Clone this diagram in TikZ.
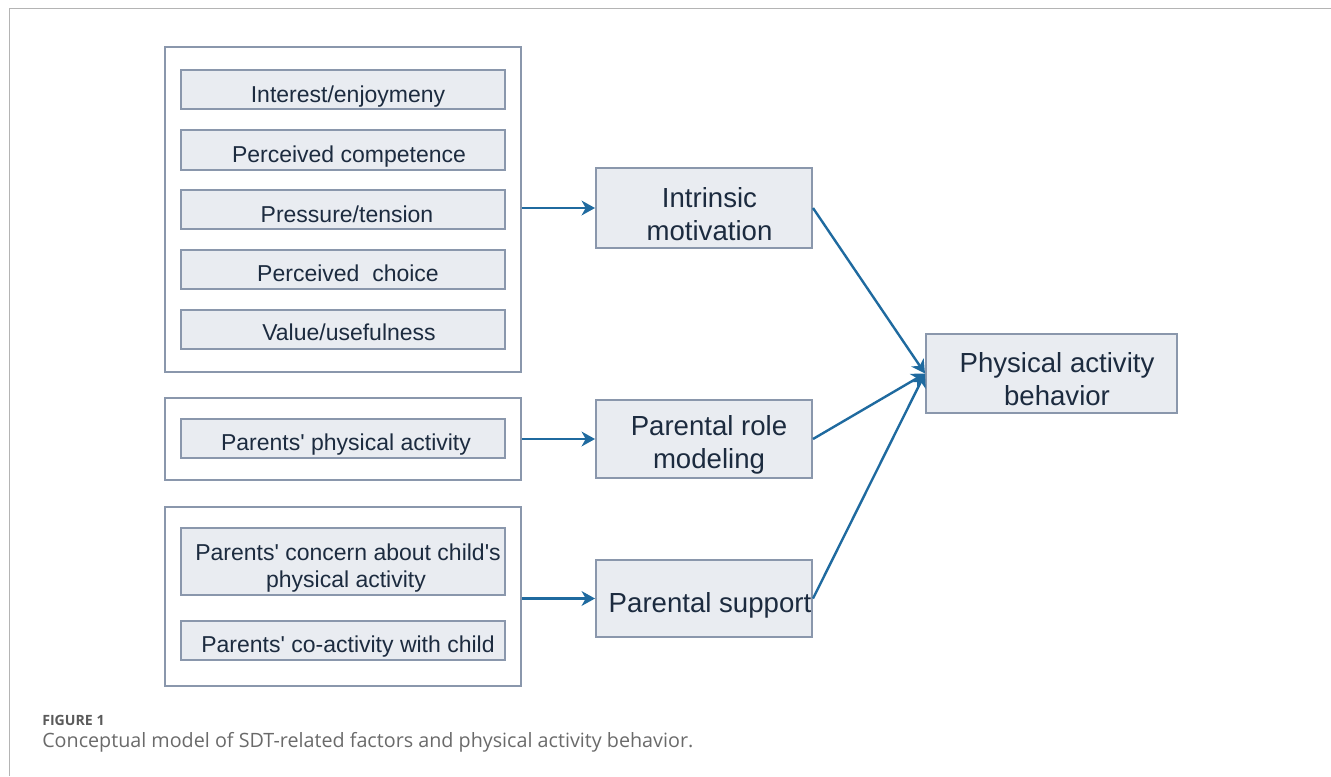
\documentclass[tikz,border=0pt]{standalone}
\usepackage{fontspec}
\newfontfamily\diafont{Liberation Sans}
\newfontfamily\capfont{Open Sans}
\usetikzlibrary{arrows.meta,fit}
\definecolor{boxfill}{HTML}{E9ECF1}
\definecolor{boxline}{HTML}{8A97AC}
\definecolor{arrowblue}{HTML}{1F6A9F}
\definecolor{txtcol}{HTML}{1C2B3F}
\definecolor{framegray}{HTML}{B4B4B4}
\definecolor{capgray}{HTML}{5A5A5A}
\definecolor{capgrayb}{HTML}{6A6A6A}
\tikzset{
  groupbox/.style={draw=boxline, line width=1.4pt, fill=white, inner sep=0pt},
  sbox/.style={draw=boxline, line width=1.5pt, fill=boxfill, inner sep=0pt},
  stxt/.style={inner sep=0pt, anchor=base, text=txtcol, font=\diafont\fontsize{17.25pt}{20pt}\selectfont},
  btxt/.style={inner sep=0pt, anchor=base, text=txtcol, font=\diafont\fontsize{20.7pt}{24pt}\selectfont},
  conn/.style={draw=arrowblue, line width=1.8pt, -{Stealth[length=10pt,width=11pt,inset=3pt]}},
}
\begin{document}
\begin{tikzpicture}[x=0.75pt,y=-0.75pt]
\useasboundingbox (0,0) rectangle (1331,776);
% outer frame
\draw[framegray, line width=1.4pt] (9.5,776) -- (9.5,8.5) -- (1331,8.5);

% group boxes
\node[groupbox, fit={(165,47) (521,372)}] (g1) {};
\node[groupbox, fit={(165,398) (521,480)}] (g2) {};
\node[groupbox, fit={(165,507) (521,686)}] (g3) {};

% small boxes group 1
\node[sbox, fit={(181,70) (505,109)}] (s1) {};
\node[sbox, fit={(181,130) (505,170)}] (s2) {};
\node[sbox, fit={(181,190) (505,229)}] (s3) {};
\node[sbox, fit={(181,250) (505,289)}] (s4) {};
\node[sbox, fit={(181,310) (505,349)}] (s5) {};
\node[stxt] (t1) at (348,102.7) {Interest/enjoymeny};
\node[stxt] (t2) at (349,162.5) {Perceived competence};
\node[stxt] (t3) at (347,222.3) {Pressure/tension};
\node[stxt] (t4) at (348,281.7) {Perceived\ \ choice};
\node[stxt] (t5) at (349,340.7) {Value/usefulness};

% group 2
\node[sbox, fit={(181,419) (505,458)}] (s6) {};
\node[stxt] (t6) at (346,450.7) {Parents' physical activity};

% group 3
\node[sbox, fit={(181,528) (505,595)}] (s7) {};
\node[stxt] (t7a) at (348,560) {Parents' concern about child's};
\node[stxt] (t7b) at (346,587) {physical activity};
\node[sbox, fit={(181,621) (505,660)}] (s8) {};
\node[stxt] (t8) at (348,652.7) {Parents' co-activity with child};

% middle boxes
\node[sbox, fit={(596,168) (812,248)}] (im) {};
\node[btxt] (imt1) at (709.5,207) {Intrinsic};
\node[btxt] (imt2) at (709.5,240) {motivation};
\node[sbox, fit={(596,400) (812,478)}] (rm) {};
\node[btxt] (rmt1) at (709,435) {Parental role};
\node[btxt] (rmt2) at (709,468) {modeling};
\node[sbox, fit={(596,560) (812,637)}] (ps) {};
\node[btxt] (pst) at (710,612.7) {Parental support};

% right box
\node[sbox, fit={(926,334) (1177,413)}] (pa) {};
\node[btxt] (pat1) at (1057,372) {Physical activity};
\node[btxt] (pat2) at (1057,405) {behavior};

% connectors
\draw[conn] (g1.east |- im.west) -- (im.west);
\draw[conn] (g2.east |- rm.west) -- (rm.west);
\draw[conn] (g3.east |- ps.west) -- (ps.west);
\draw[conn] (im.east) -- (pa.west);
\draw[conn] (rm.east) -- (pa.west);
\draw[conn] (ps.east) -- (pa.west);

% caption
\node[inner sep=0pt, anchor=base west, text=capgray, font=\capfont\bfseries\fontsize{10.6pt}{12pt}\selectfont] (fig) at (42,725) {FIGURE 1};
\node[inner sep=0pt, anchor=base west, text=capgrayb, font=\capfont\fontsize{14.8pt}{17pt}\selectfont] (cap) at (42,747) {Conceptual model of SDT-related factors and physical activity behavior.};
\end{tikzpicture}
\end{document}
